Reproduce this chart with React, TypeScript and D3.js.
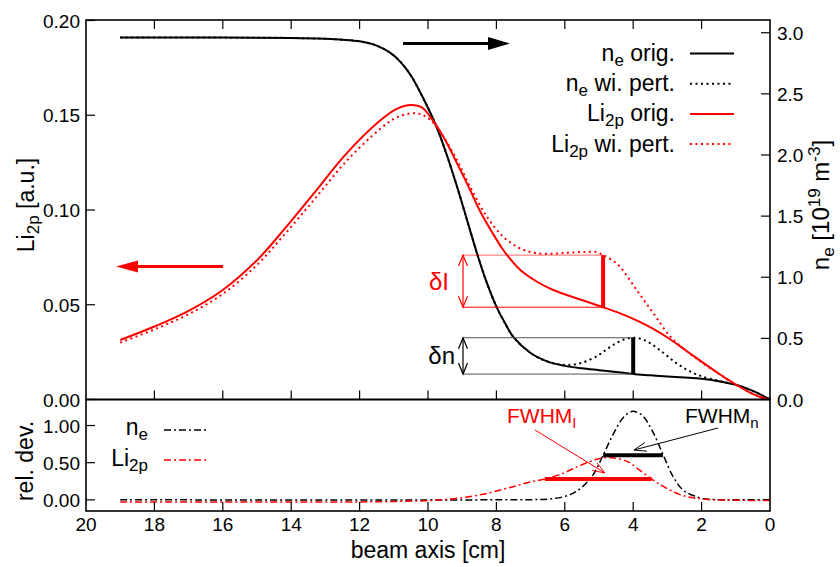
import React from "react";
import * as d3 from "d3";

// ---------- data ----------
const xTickValues = [20, 18, 16, 14, 12, 10, 8, 6, 4, 2, 0];
const liTickValues = [0, 0.05, 0.1, 0.15, 0.2];
const liTickLabels = ["0.00", "0.05", "0.10", "0.15", "0.20"];
const neTickValues = [0, 0.5, 1, 1.5, 2, 2.5, 3];
const neTickLabels = ["0.0", "0.5", "1.0", "1.5", "2.0", "2.5", "3.0"];
const relTickValues = [0, 0.5, 1];
const relTickLabels = ["0.00", "0.50", "1.00"];

const neX = [19, 16, 14, 13, 12.5, 12, 11.5, 11.1, 10.8, 10.5, 10.15, 9.75, 9.45, 9.15, 8.85, 8.55, 8.3, 8.0, 7.75, 7.5, 7.0, 6.5, 6.0, 5.5, 5.0, 4.5, 4.0, 3.5, 3.0, 2.5, 2.0, 1.5, 1.0, 0.5, 0];
const neOrig = [2.96, 2.96, 2.957, 2.95, 2.943, 2.93, 2.895, 2.835, 2.76, 2.65, 2.47, 2.23, 2.0, 1.74, 1.46, 1.18, 0.97, 0.76, 0.625, 0.51, 0.38, 0.31, 0.275, 0.255, 0.24, 0.225, 0.208, 0.198, 0.188, 0.18, 0.17, 0.15, 0.12, 0.07, 0.0];

const nePertX = [19, 16, 14, 13, 12.5, 12, 11.5, 11.1, 10.8, 10.5, 10.15, 9.75, 9.45, 9.15, 8.85, 8.55, 8.3, 8.0, 7.75, 7.5, 7.0, 6.5, 6.0, 5.5, 5.0, 4.75, 4.5, 4.25, 4.0, 3.75, 3.5, 3.25, 3.0, 2.75, 2.5, 2.25, 2.0, 1.5, 1.0, 0.5, 0];
const nePert = [2.96, 2.96, 2.957, 2.95, 2.943, 2.93, 2.895, 2.835, 2.76, 2.65, 2.47, 2.23, 2.0, 1.74, 1.46, 1.18, 0.97, 0.76, 0.625, 0.51, 0.38, 0.31, 0.283, 0.3, 0.365, 0.415, 0.46, 0.493, 0.505, 0.495, 0.46, 0.41, 0.355, 0.3, 0.255, 0.218, 0.19, 0.152, 0.12, 0.07, 0.0];

const liX = [19, 18, 17, 16, 15, 14.25, 13.35, 12.4, 11.4, 10.9, 10.5, 10.15, 9.95, 9.55, 9.15, 8.77, 8.48, 8.0, 7.8, 7.3, 6.8, 6.34, 5.5, 4.88, 4.4, 3.9, 3.4, 2.92, 2.44, 1.95, 1.5, 1.17, 0.6, 0.2, 0];
const liOrig = [0.0314, 0.0385, 0.0468, 0.0578, 0.0735, 0.0888, 0.1085, 0.1295, 0.1472, 0.1535, 0.1554, 0.1538, 0.1495, 0.1387, 0.1246, 0.1106, 0.0995, 0.0845, 0.0789, 0.0683, 0.062, 0.0578, 0.0525, 0.0487, 0.0456, 0.0418, 0.0372, 0.0318, 0.0256, 0.0193, 0.0137, 0.0098, 0.0038, 0.0008, 0];

const liPertX = [19, 18, 17, 16, 15, 14.25, 13.35, 12.4, 11.4, 10.9, 10.33, 9.95, 9.56, 9.15, 8.77, 8.28, 7.8, 7.31, 6.82, 6.3, 5.85, 5.4, 5.07, 4.88, 4.62, 4.39, 3.9, 3.41, 2.92, 2.44, 1.95, 1.5, 1.17, 0.6, 0.2, 0];
const liPert = [0.03, 0.037, 0.045, 0.0557, 0.071, 0.086, 0.105, 0.1255, 0.1428, 0.149, 0.151, 0.1478, 0.139, 0.1262, 0.1123, 0.0965, 0.0859, 0.0798, 0.0772, 0.077, 0.0775, 0.0779, 0.0778, 0.0762, 0.0735, 0.0701, 0.0578, 0.0455, 0.0333, 0.0256, 0.019, 0.0136, 0.0097, 0.0038, 0.0008, 0];

const relNeX = [19, 8, 7, 6.5, 6.05, 5.75, 5.5, 5.17, 4.88, 4.6, 4.3, 4.04, 3.85, 3.7, 3.41, 3.12, 2.83, 2.54, 2.2, 1.95, 1.5, 1, 0];
const relNe = [0, 0, 0.002, 0.01, 0.04, 0.09, 0.17, 0.34, 0.6, 0.87, 1.1, 1.19, 1.17, 1.12, 0.9, 0.6, 0.31, 0.13, 0.05, 0.015, 0.002, 0, 0];

const relLiX = [19, 14, 12, 11, 10, 9.5, 8.9, 8.4, 7.9, 7.45, 7.02, 6.58, 6.04, 5.56, 5.07, 4.78, 4.39, 4.1, 3.9, 3.46, 3.12, 2.63, 2.14, 1.5, 1, 0];
const relLi = [-0.03, -0.03, -0.028, -0.022, -0.01, 0.005, 0.035, 0.075, 0.13, 0.185, 0.24, 0.28, 0.36, 0.46, 0.545, 0.57, 0.55, 0.5, 0.43, 0.28, 0.18, 0.07, 0.02, 0.0, -0.005, -0.01];

// annotation values (data units)
const deltaX = { li: 4.88, ne: 4.0 };
const deltaLi = [0.0487, 0.0762];
const deltaNe = [0.208, 0.505];
const fwhmNe = { from: 4.88, to: 3.13, level: 0.6 };
const fwhmLi = { from: 6.58, to: 3.46, level: 0.28 };

// ---------- layout ----------
const L = 86, R = 770, T = 20, MID = 399.5, B = 511;
const FONT = "'Liberation Sans', Arial, Helvetica, sans-serif";

export default function App() {
  const x = d3.scaleLinear().domain([20, 0]).range([L, R]);
  const yLi = d3.scaleLinear().domain([0, 0.2]).range([MID, T + 0.5]);
  const yNe = d3.scaleLinear().domain([0, 3.1]).range([MID, T + 0.5]);
  const yRel = d3.scaleLinear().domain([-0.15, 1.35]).range([B, MID]);

  const mk = (xs: number[], ys: number[], ys2: (v: number) => number) =>
    d3
      .line<number>()
      .x((_, i) => x(xs[i]))
      .y((v) => ys2(v))
      .curve(d3.curveCatmullRom.alpha(0.5))(ys) as string;

  const tickLen = 9;
  const innerTicks = xTickValues.filter((v) => v !== 20 && v !== 0);

  const vArrow = (xp: number, y1: number, y2: number, color: string) => {
    const h = 11, w = 4.5;
    return (
      <g stroke={color} strokeWidth={1.2} fill="none">
        <line x1={xp} x2={xp} y1={y1} y2={y2} />
        <polyline points={`${xp - w},${y1 + h} ${xp},${y1} ${xp + w},${y1 + h}`} />
        <polyline points={`${xp - w},${y2 - h} ${xp},${y2} ${xp + w},${y2 - h}`} />
      </g>
    );
  };

  const slantArrow = (x1: number, y1: number, x2: number, y2: number, color: string) => {
    const ang = Math.atan2(y2 - y1, x2 - x1);
    const h = 13, w = 0.35;
    const a1 = [x2 - h * Math.cos(ang - w), y2 - h * Math.sin(ang - w)];
    const a2 = [x2 - h * Math.cos(ang + w), y2 - h * Math.sin(ang + w)];
    return (
      <g stroke={color} strokeWidth={1} fill="none">
        <line x1={x1} y1={y1} x2={x2} y2={y2} />
        <polyline points={`${a1[0]},${a1[1]} ${x2},${y2} ${a2[0]},${a2[1]}`} />
      </g>
    );
  };

  const legendRows = [
    { y: 53.5, color: "black", dash: undefined as string | undefined, base: "n", sub: "e", rest: " orig." },
    { y: 83.7, color: "black", dash: "2,3.5", base: "n", sub: "e", rest: " wi. pert." },
    { y: 113.9, color: "red", dash: undefined, base: "Li", sub: "2p", rest: " orig." },
    { y: 144.1, color: "red", dash: "2,3.5", base: "Li", sub: "2p", rest: " wi. pert." },
  ];

  return (
    <svg width={840} height={567} style={{ position: "absolute", left: 0, top: 0, background: "white" }} fontFamily={FONT}>
      <rect x={0} y={0} width={840} height={567} fill="white" />

      {/* ---------- top panel curves ---------- */}
      <path d={mk(neX, neOrig, yNe)} fill="none" stroke="black" strokeWidth={2} />
      <path d={mk(nePertX, nePert, yNe)} fill="none" stroke="black" strokeWidth={2} strokeDasharray="2,3.5" />
      <path d={mk(liX, liOrig, yLi)} fill="none" stroke="red" strokeWidth={2} />
      <path d={mk(liPertX, liPert, yLi)} fill="none" stroke="red" strokeWidth={2} strokeDasharray="2,3.5" />

      {/* delta I box */}
      <g stroke="red" strokeWidth={1}>
        <line x1={463} x2={x(deltaX.li)} y1={yLi(deltaLi[1])} y2={yLi(deltaLi[1])} strokeOpacity={0.6} />
        <line x1={463} x2={x(deltaX.li)} y1={yLi(deltaLi[0])} y2={yLi(deltaLi[0])} />
      </g>
      <line x1={x(deltaX.li)} x2={x(deltaX.li)} y1={yLi(deltaLi[1])} y2={yLi(deltaLi[0])} stroke="red" strokeWidth={4} />
      {vArrow(463, yLi(deltaLi[1]), yLi(deltaLi[0]), "red")}
      <text x={449} y={290} fontSize={24} fill="red" textAnchor="end">δI</text>

      {/* delta n box */}
      <g stroke="#555" strokeWidth={1}>
        <line x1={463} x2={x(deltaX.ne)} y1={yNe(deltaNe[1])} y2={yNe(deltaNe[1])} />
        <line x1={463} x2={x(deltaX.ne)} y1={yNe(deltaNe[0])} y2={yNe(deltaNe[0])} />
      </g>
      <line x1={x(deltaX.ne)} x2={x(deltaX.ne)} y1={yNe(deltaNe[1])} y2={yNe(deltaNe[0])} stroke="black" strokeWidth={4} />
      {vArrow(463, yNe(deltaNe[1]), yNe(deltaNe[0]), "black")}
      <text x={455} y={364} fontSize={24} fill="black" textAnchor="end">δn</text>

      {/* direction arrows */}
      <line x1={403} x2={490} y1={43.5} y2={43.5} stroke="black" strokeWidth={3} />
      <polygon points={`${488},${37} ${510},${43.5} ${488},${50}`} fill="black" />
      <line x1={223} x2={136} y1={266.5} y2={266.5} stroke="red" strokeWidth={3} />
      <polygon points={`${138},${260.5} ${116},${266.5} ${138},${272.5}`} fill="red" />

      {/* legend */}
      {legendRows.map((r, i) => (
        <g key={i}>
          <text x={675} y={r.y + 7.5} fontSize={23} textAnchor="end" fill="black">
            {r.base}
            <tspan dy={5} fontSize={17}>{r.sub}</tspan>
            <tspan dy={-5}>{r.rest}</tspan>
          </text>
          <line x1={690} x2={734} y1={r.y} y2={r.y} stroke={r.color} strokeWidth={2} strokeDasharray={r.dash} />
        </g>
      ))}

      {/* ---------- bottom panel curves ---------- */}
      <path d={mk(relNeX, relNe, yRel)} fill="none" stroke="black" strokeWidth={1.5} strokeDasharray="7,3,2,3" />
      <path d={mk(relLiX, relLi, yRel)} fill="none" stroke="red" strokeWidth={1.5} strokeDasharray="7,3,2,3" />

      <line x1={x(fwhmNe.from)} x2={x(fwhmNe.to)} y1={yRel(fwhmNe.level)} y2={yRel(fwhmNe.level)} stroke="black" strokeWidth={4} />
      <line x1={x(fwhmLi.from)} x2={x(fwhmLi.to)} y1={yRel(fwhmLi.level)} y2={yRel(fwhmLi.level)} stroke="red" strokeWidth={4} />
      {slantArrow(535, 430, 605, 473, "red")}
      {slantArrow(718, 428, 634, 450, "black")}
      <text x={507} y={423} fontSize={21} fill="red">
        FWHM<tspan dy={5} fontSize={15}>I</tspan>
      </text>
      <text x={685} y={423} fontSize={21} fill="black">
        FWHM<tspan dy={5} fontSize={15}>n</tspan>
      </text>

      {/* bottom legend */}
      <text x={148} y={435} fontSize={23} textAnchor="end">
        n<tspan dy={5} fontSize={17}>e</tspan>
      </text>
      <line x1={164} x2={208} y1={430} y2={430} stroke="black" strokeWidth={1.5} strokeDasharray="7,3,2,3" />
      <text x={148} y={466} fontSize={23} textAnchor="end">
        Li<tspan dy={5} fontSize={17}>2p</tspan>
      </text>
      <line x1={164} x2={208} y1={460} y2={460} stroke="red" strokeWidth={1.5} strokeDasharray="7,3,2,3" />

      {/* ---------- frames & ticks ---------- */}
      <rect x={L} y={T} width={R - L} height={MID - T} fill="none" stroke="black" strokeWidth={1.6} />
      <rect x={L} y={MID} width={R - L} height={B - MID} fill="none" stroke="black" strokeWidth={1.6} />
      <g stroke="black" strokeWidth={1.2}>
        {innerTicks.map((v) => (
          <g key={v}>
            <line x1={x(v)} x2={x(v)} y1={T} y2={T + tickLen} />
            <line x1={x(v)} x2={x(v)} y1={MID} y2={MID - tickLen} />
            <line x1={x(v)} x2={x(v)} y1={B} y2={B - tickLen} />
          </g>
        ))}
        {liTickValues.map((v) => (
          <line key={"l" + v} x1={L} x2={L + tickLen} y1={yLi(v)} y2={yLi(v)} />
        ))}
        {neTickValues.map((v) => (
          <line key={"r" + v} x1={R} x2={R - tickLen} y1={yNe(v)} y2={yNe(v)} />
        ))}
        {relTickValues.map((v) => (
          <line key={"b" + v} x1={L} x2={L + tickLen} y1={yRel(v)} y2={yRel(v)} />
        ))}
      </g>

      {/* tick labels */}
      <g fontSize={19} fill="black">
        {liTickValues.map((v, i) => (
          <text key={"lt" + v} x={80} y={yLi(v) + 7} textAnchor="end">{liTickLabels[i]}</text>
        ))}
        {neTickValues.map((v, i) => (
          <text key={"rt" + v} x={777} y={yNe(v) + 7} textAnchor="start">{neTickLabels[i]}</text>
        ))}
        {relTickValues.map((v, i) => (
          <text key={"bt" + v} x={80} y={yRel(v) + 7} textAnchor="end">{relTickLabels[i]}</text>
        ))}
        {xTickValues.map((v) => (
          <text key={"xt" + v} x={x(v)} y={531} textAnchor="middle">{String(v)}</text>
        ))}
      </g>

      {/* axis labels */}
      <text x={428} y={558} fontSize={23} textAnchor="middle">beam axis [cm]</text>
      <text transform="translate(34,205) rotate(-90)" fontSize={23} textAnchor="middle">
        Li<tspan dy={5} fontSize={17}>2p</tspan>
        <tspan dy={-5}> [a.u.]</tspan>
      </text>
      <text transform="translate(829,205) rotate(-90)" fontSize={24} textAnchor="middle">
        n<tspan dy={5} fontSize={17}>e</tspan>
        <tspan dy={-5}> [10</tspan>
        <tspan dy={-9} fontSize={17}>19</tspan>
        <tspan dy={9}> m</tspan>
        <tspan dy={-9} fontSize={17}>-3</tspan>
        <tspan dy={9}>]</tspan>
      </text>
      <text transform="translate(33,461) rotate(-90)" fontSize={23} textAnchor="middle">rel. dev.</text>
    </svg>
  );
}
